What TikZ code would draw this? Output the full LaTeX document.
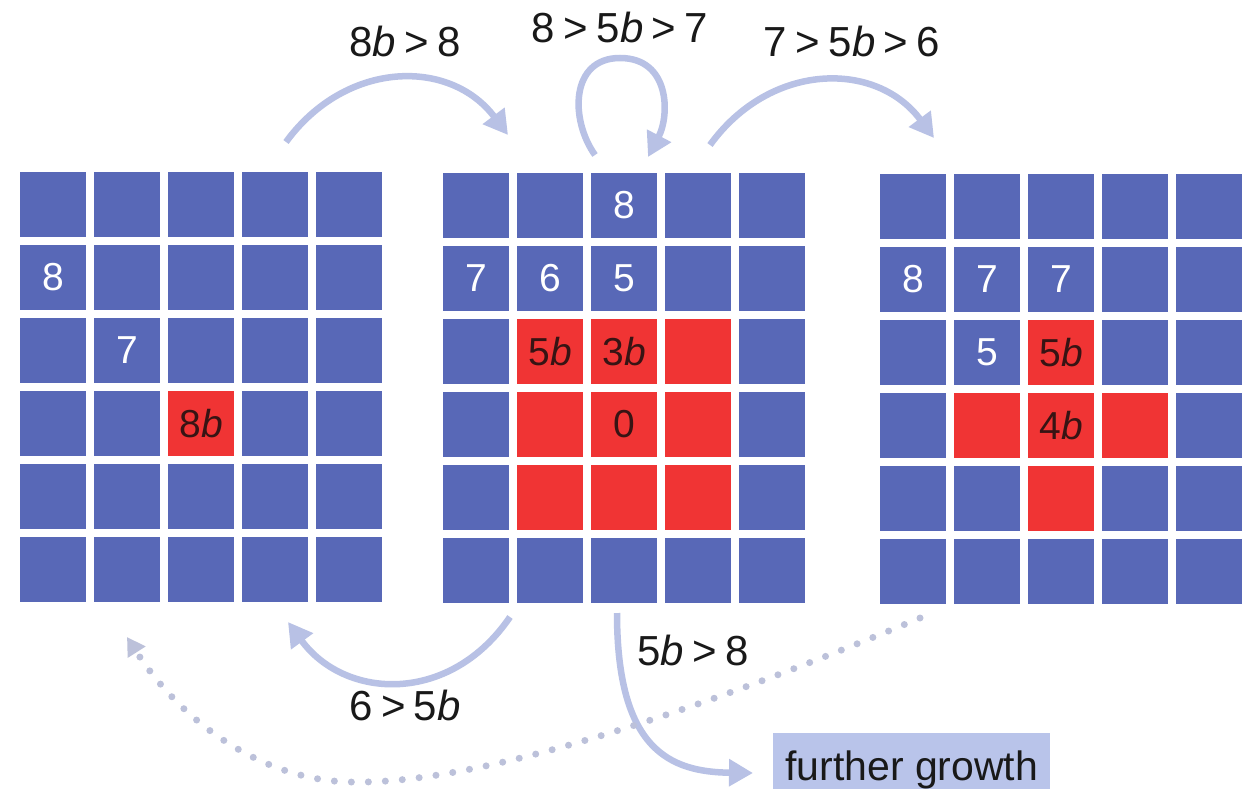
\documentclass[tikz,border=0pt]{standalone}
\usepackage{fontspec}
\setmainfont{Liberation Sans}
\usetikzlibrary{arrows.meta}
\definecolor{cellblue}{RGB}{88,104,183}
\definecolor{cellred}{RGB}{240,52,52}
\definecolor{redtext}{RGB}{55,20,20}
\definecolor{arrowc}{RGB}{184,193,229}
\definecolor{dotc}{RGB}{188,193,218}
\definecolor{growc}{RGB}{185,196,234}
\definecolor{inkc}{RGB}{25,25,25}
\newcommand{\gtsym}{\hspace{0.2em}>\hspace{0.2em}}
\begin{document}
\begin{tikzpicture}[x=1pt,y=-1pt,
  cell/.style={fill=cellblue, minimum width=66pt, minimum height=65pt, inner sep=0pt},
  celltext/.style={font=\fontsize{39}{39}\selectfont, text=white, inner sep=0pt},
  redcell/.style={cell, fill=cellred, text=redtext, font=\fontsize{39}{39}\selectfont},
  lbl/.style={font=\fontsize{42}{42}\selectfont, text=inkc, anchor=base, inner sep=0pt},
  flow/.style={draw=arrowc, line width=6.5pt, -{Triangle[length=24pt,width=26pt]}},
  dotflow/.style={draw=dotc, line width=7pt, line cap=round, dash pattern=on 0pt off 17pt, -{Triangle[length=18pt,width=20pt]}},
  growbox/.style={fill=growc, text=inkc, font=\fontsize{41}{41}\selectfont, inner xsep=12pt, inner ysep=0pt, text height=47pt, text depth=14pt}
]
\useasboundingbox (0,0) rectangle (1258,789);
\fill[white] (0,0) rectangle (1258,789);

% grids
\foreach \g/\xo/\yo in {1/20/172, 2/443/173, 3/880/174}
  \foreach \r in {1,...,6}
    \foreach \c in {1,...,5}
      \node[cell] (g\g-\r-\c) at ({\xo+74*(\c-1)+33},{\yo+73*(\r-1)+32.5}) {};

% red cells
\foreach \n/\t in {g1-4-3/{8\textit{b}},
                   g2-3-2/{5\textit{b}}, g2-3-3/{3\textit{b}}, g2-3-4/{},
                   g2-4-2/{}, g2-4-3/{0}, g2-4-4/{},
                   g2-5-2/{}, g2-5-3/{}, g2-5-4/{},
                   g3-3-3/{5\textit{b}}, g3-4-2/{}, g3-4-3/{4\textit{b}}, g3-4-4/{},
                   g3-5-3/{}}
  \node[redcell] (r-\n) at (\n) {\t};

% white numbers
\foreach \n/\t in {g1-2-1/8, g1-3-2/7,
                   g2-1-3/8, g2-2-1/7, g2-2-2/6, g2-2-3/5,
                   g3-2-1/8, g3-2-2/7, g3-2-3/7, g3-3-2/5}
  \node[celltext] (t-\n) at (\n) {\t};

% labels
\node[lbl] (l1) at (405,57) {8\textit{b}\gtsym 8};
\node[lbl] (l2) at (620,43) {8\gtsym 5\textit{b}\gtsym 7};
\node[lbl] (l3) at (852,57) {7\gtsym 5\textit{b}\gtsym 6};
\node[lbl] (l4) at (405,720) {6\gtsym 5\textit{b}};
\node[lbl] (l5) at (693,665) {5\textit{b}\gtsym 8};

% further growth box
\node[growbox, anchor=base west] (growth) at (773,780) {further growth};

% arrow end points
\coordinate (a1s) at (286,142); \coordinate (a1e) at (508,135);
\coordinate (a2s) at (595,155); \coordinate (a2m) at (620,58); \coordinate (a2e) at (648,157);
\coordinate (a3s) at (710,145); \coordinate (a3e) at (934,138);
\coordinate (a4s) at (510,617); \coordinate (a4e) at (288,622);
\coordinate (a5s) at (617,613); \coordinate (a5e) at (753,773);
\coordinate (d1s) at (920,618); \coordinate (d1m) at (350,782); \coordinate (d1e) at (127,637);

% arrows
\draw[flow] (a1s) .. controls (346,60) and (450,58) .. (a1e);
\draw[flow] (a2s) .. controls (570,120) and (570,58) .. (a2m) .. controls (670,58) and (670,115) .. (a2e);
\draw[flow] (a3s) .. controls (770,62) and (876,60) .. (a3e);
\draw[flow] (a4s) .. controls (450,705) and (345,700) .. (a4e);
\draw[flow] (a5s) .. controls (617,750) and (670,772) .. (a5e);
\draw[dotflow] (d1s) .. controls (700,710) and (480,785) .. (d1m) .. controls (260,780) and (180,720) .. (d1e);
\end{tikzpicture}
\end{document}
